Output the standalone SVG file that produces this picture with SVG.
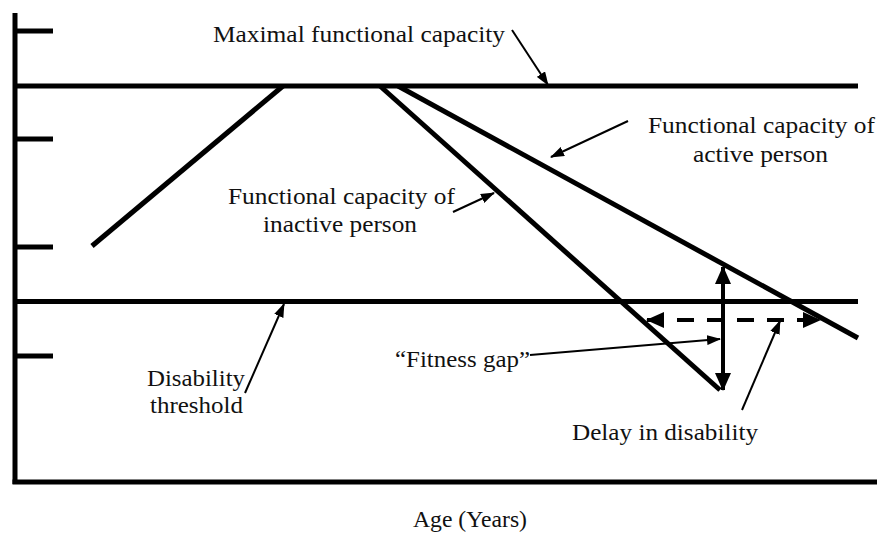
<svg xmlns="http://www.w3.org/2000/svg" width="877" height="533" viewBox="0 0 877 533">
<style>
.thick{stroke:#000;stroke-width:5;fill:none;stroke-linecap:butt}
.thin{stroke:#000;stroke-width:2;fill:none}
text{font-family:'Liberation Serif','DejaVu Serif',serif;font-size:22.5px;fill:#111}
</style>
<defs>
<marker id="ah" markerUnits="userSpaceOnUse" markerWidth="14" markerHeight="10" refX="13" refY="5" orient="auto-start-reverse">
<path d="M0,0 L14,5 L0,10 z" fill="#000"/>
</marker>
<marker id="ahb" markerUnits="userSpaceOnUse" markerWidth="18" markerHeight="16" refX="17" refY="8" orient="auto-start-reverse">
<path d="M0,0 L18,8 L0,16 z" fill="#000"/>
</marker>
</defs>
<rect width="877" height="533" fill="#fff"/>
<g id="axes">
<line class="thick" x1="15" y1="13" x2="15" y2="484"/>
<line class="thick" x1="12.5" y1="482" x2="877" y2="482"/>
<line class="thick" x1="15" y1="31" x2="53" y2="31"/>
<line class="thick" x1="15" y1="139" x2="53" y2="139"/>
<line class="thick" x1="15" y1="247" x2="53" y2="247"/>
<line class="thick" x1="15" y1="356" x2="53" y2="356"/>
</g>
<g id="max-capacity-line">
<line class="thick" x1="15" y1="86" x2="858" y2="86"/>
</g>
<g id="disability-threshold-line">
<line class="thick" x1="15" y1="301.5" x2="858" y2="301.5"/>
</g>
<g id="inactive-curve">
<polyline class="thick" points="92,246 283,86"/>
<polyline class="thick" points="380,86 720,390"/>
</g>
<g id="active-curve">
<polyline class="thick" points="398,86 858,338"/>
</g>
<g id="label-max"><text font-family="Liberation Serif, serif" x="213" y="42" textLength="292" lengthAdjust="spacingAndGlyphs">Maximal functional capacity</text></g>
<g id="label-active"><text font-family="Liberation Serif, serif" x="648" y="133" textLength="227" lengthAdjust="spacingAndGlyphs">Functional capacity of</text><text font-family="Liberation Serif, serif" x="693" y="162" textLength="135" lengthAdjust="spacingAndGlyphs">active person</text></g>
<g id="label-inactive"><text font-family="Liberation Serif, serif" x="228" y="204" textLength="227" lengthAdjust="spacingAndGlyphs">Functional capacity of</text><text font-family="Liberation Serif, serif" x="263" y="232" textLength="154" lengthAdjust="spacingAndGlyphs">inactive person</text></g>
<g id="label-threshold"><text font-family="Liberation Serif, serif" x="147" y="386" textLength="98" lengthAdjust="spacingAndGlyphs">Disability</text><text font-family="Liberation Serif, serif" x="150" y="413" textLength="93" lengthAdjust="spacingAndGlyphs">threshold</text></g>
<g id="label-gap"><text font-family="Liberation Serif, serif" x="395" y="367" textLength="135" lengthAdjust="spacingAndGlyphs">“Fitness gap”</text></g>
<g id="label-delay"><text font-family="Liberation Serif, serif" x="572" y="440" textLength="186" lengthAdjust="spacingAndGlyphs">Delay in disability</text></g>
<g id="label-age"><text font-family="Liberation Serif, serif" x="413" y="527" textLength="114" lengthAdjust="spacingAndGlyphs">Age (Years)</text></g>
<g id="connectors">
<line class="thin" x1="512" y1="30" x2="548" y2="85" marker-end="url(#ah)"/>
<line class="thin" x1="628" y1="121" x2="551" y2="157" marker-end="url(#ah)"/>
<line class="thin" x1="453" y1="212" x2="494" y2="193" marker-end="url(#ah)"/>
<line class="thin" x1="245" y1="393" x2="284" y2="304" marker-end="url(#ah)"/>
<line class="thin" x1="530" y1="355" x2="720" y2="339" marker-end="url(#ah)"/>
<line class="thin" x1="742" y1="410" x2="780" y2="321" marker-end="url(#ah)"/>
<line stroke="#000" stroke-width="4" x1="723" y1="267" x2="723" y2="390" marker-start="url(#ahb)" marker-end="url(#ahb)"/>
<line stroke="#000" stroke-width="4" stroke-dasharray="17 13" x1="647" y1="320" x2="820" y2="320" marker-start="url(#ahb)" marker-end="url(#ahb)"/>
</g>
</svg>
